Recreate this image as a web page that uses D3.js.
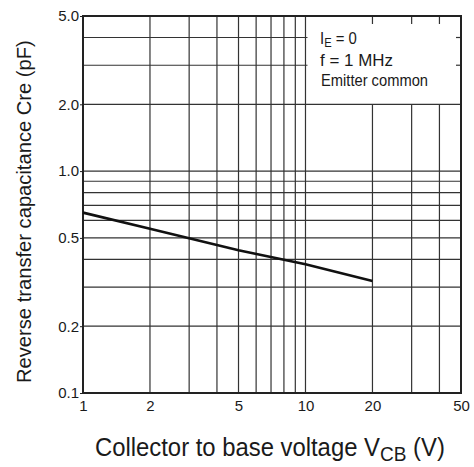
<!DOCTYPE html>
<html>
<head>
<meta charset="utf-8">
<script src="https://cdn.jsdelivr.net/npm/d3@7"></script>
<style>
  html, body { margin: 0; padding: 0; background: #fff; }
  svg { display: block; }
  text { font-family: "Liberation Sans", Arial, Helvetica, sans-serif; fill: #1a1a1a; }
</style>
</head>
<body>
<svg id="chart" width="474" height="467"></svg>
<script>
// ---- data ----
const xTickValues = [1, 2, 5, 10, 20, 50];
const xTickLabels = ["1", "2", "5", "10", "20", "50"];
const yTickValues = [0.1, 0.2, 0.5, 1.0, 2.0, 5.0];
const yTickLabels = ["0.1", "0.2", "0.5", "1.0", "2.0", "5.0"];
const xGridValues = [2, 3, 4, 5, 6, 7, 8, 9, 10, 20, 30, 40];
const yGridValues = [0.2, 0.3, 0.4, 0.5, 0.6, 0.7, 0.8, 0.9, 1.0, 2.0, 3.0, 4.0];
const vcb = [1, 2, 5, 10, 20];          // Collector to base voltage (V)
const cre = [0.65, 0.55, 0.44, 0.38, 0.32]; // Reverse transfer capacitance (pF)
const notes = ["f = 1 MHz", "Emitter common"];

// ---- layout ----
const svg = d3.select("#chart");
const L = 83, R = 461, T = 16, B = 393;
const x = d3.scaleLog().domain([1, 50]).range([L, R]);
const y = d3.scaleLog().domain([0.1, 5.0]).range([B, T]);

const gridColor = "#333";
const g = svg.append("g");

// annotation box region (no grid inside)
const boxX0 = x(10) + 2;

// vertical grid
xGridValues.forEach(v => {
  const inBox = v > 10;
  g.append("line")
    .attr("x1", x(v)).attr("x2", x(v))
    .attr("y1", B).attr("y2", inBox ? y(2.0) : T)
    .attr("stroke", gridColor).attr("stroke-width", 1.2);
  if (inBox) {
    g.append("line")
      .attr("x1", x(v)).attr("x2", x(v))
      .attr("y1", T).attr("y2", T + 8)
      .attr("stroke", gridColor).attr("stroke-width", 1.2);
  }
});
// horizontal grid
yGridValues.forEach(v => {
  const inBox = v > 2.0;
  g.append("line")
    .attr("x1", L).attr("x2", inBox ? boxX0 : R)
    .attr("y1", y(v)).attr("y2", y(v))
    .attr("stroke", gridColor).attr("stroke-width", 1.2);
  if (inBox) {
    g.append("line")
      .attr("x1", R - 5).attr("x2", R)
      .attr("y1", y(v)).attr("y2", y(v))
      .attr("stroke", gridColor).attr("stroke-width", 1.2);
  }
});

// frame
g.append("rect")
  .attr("x", L).attr("y", T).attr("width", R - L).attr("height", B - T)
  .attr("fill", "none").attr("stroke", "#222").attr("stroke-width", 2);

// axes (labels + small outward ticks)
const yAxis = d3.axisLeft(y).tickValues(yTickValues)
  .tickFormat((d, i) => yTickLabels[i]).tickSize(3).tickPadding(1);
const ya = svg.append("g").attr("transform", `translate(${L},0)`).call(yAxis);
ya.select(".domain").remove();
ya.selectAll("line").attr("stroke", "#222");
ya.selectAll("text").attr("font-size", 15).attr("fill", "#1a1a1a")
  .attr("font-family", "'Liberation Sans', Arial, sans-serif");

const xAxis = d3.axisBottom(x).tickValues(xTickValues)
  .tickFormat((d, i) => xTickLabels[i]).tickSize(0).tickPadding(7);
const xa = svg.append("g").attr("transform", `translate(0,${B})`).call(xAxis);
xa.select(".domain").remove();
xa.selectAll("text").attr("font-size", 15).attr("fill", "#1a1a1a")
  .attr("font-family", "'Liberation Sans', Arial, sans-serif");

// data line
const line = d3.line().x((d, i) => x(vcb[i])).y(d => y(d));
svg.append("path")
  .attr("d", line(cre))
  .attr("fill", "none").attr("stroke", "#111").attr("stroke-width", 2.6);

// helper to fit text width
function fit(sel, tx, ty, targetW, rot) {
  const w = sel.node().getBBox().width;
  const sx = targetW / w;
  sel.attr("transform", `translate(${tx},${ty})` + (rot ? ` rotate(${rot})` : "") + ` scale(${sx},1)`);
}

// annotation
const a1 = svg.append("text").attr("font-size", 16);
a1.append("tspan").text("I");
a1.append("tspan").attr("font-size", 12).attr("dy", 3).text("E");
a1.append("tspan").attr("dy", -3).text(" = 0");
fit(a1, 320, 44, 37);
const a2 = svg.append("text").attr("font-size", 16).text(notes[0]);
fit(a2, 320, 66, 73);
const a3 = svg.append("text").attr("font-size", 16).text(notes[1]);
fit(a3, 321, 86, 107);

// x title
const xt = svg.append("text").attr("font-size", 25);
xt.append("tspan").text("Collector to base voltage V");
xt.append("tspan").attr("font-size", 20).attr("dy", 5).text("CB");
xt.append("tspan").attr("dy", -5).text(" (V)");
fit(xt, 95, 456, 350);

// y title
const yt = svg.append("text").attr("font-size", 21)
  .text("Reverse transfer capacitance Cre (pF)");
fit(yt, 31, 383, 343, -90);
</script>
</body>
</html>
